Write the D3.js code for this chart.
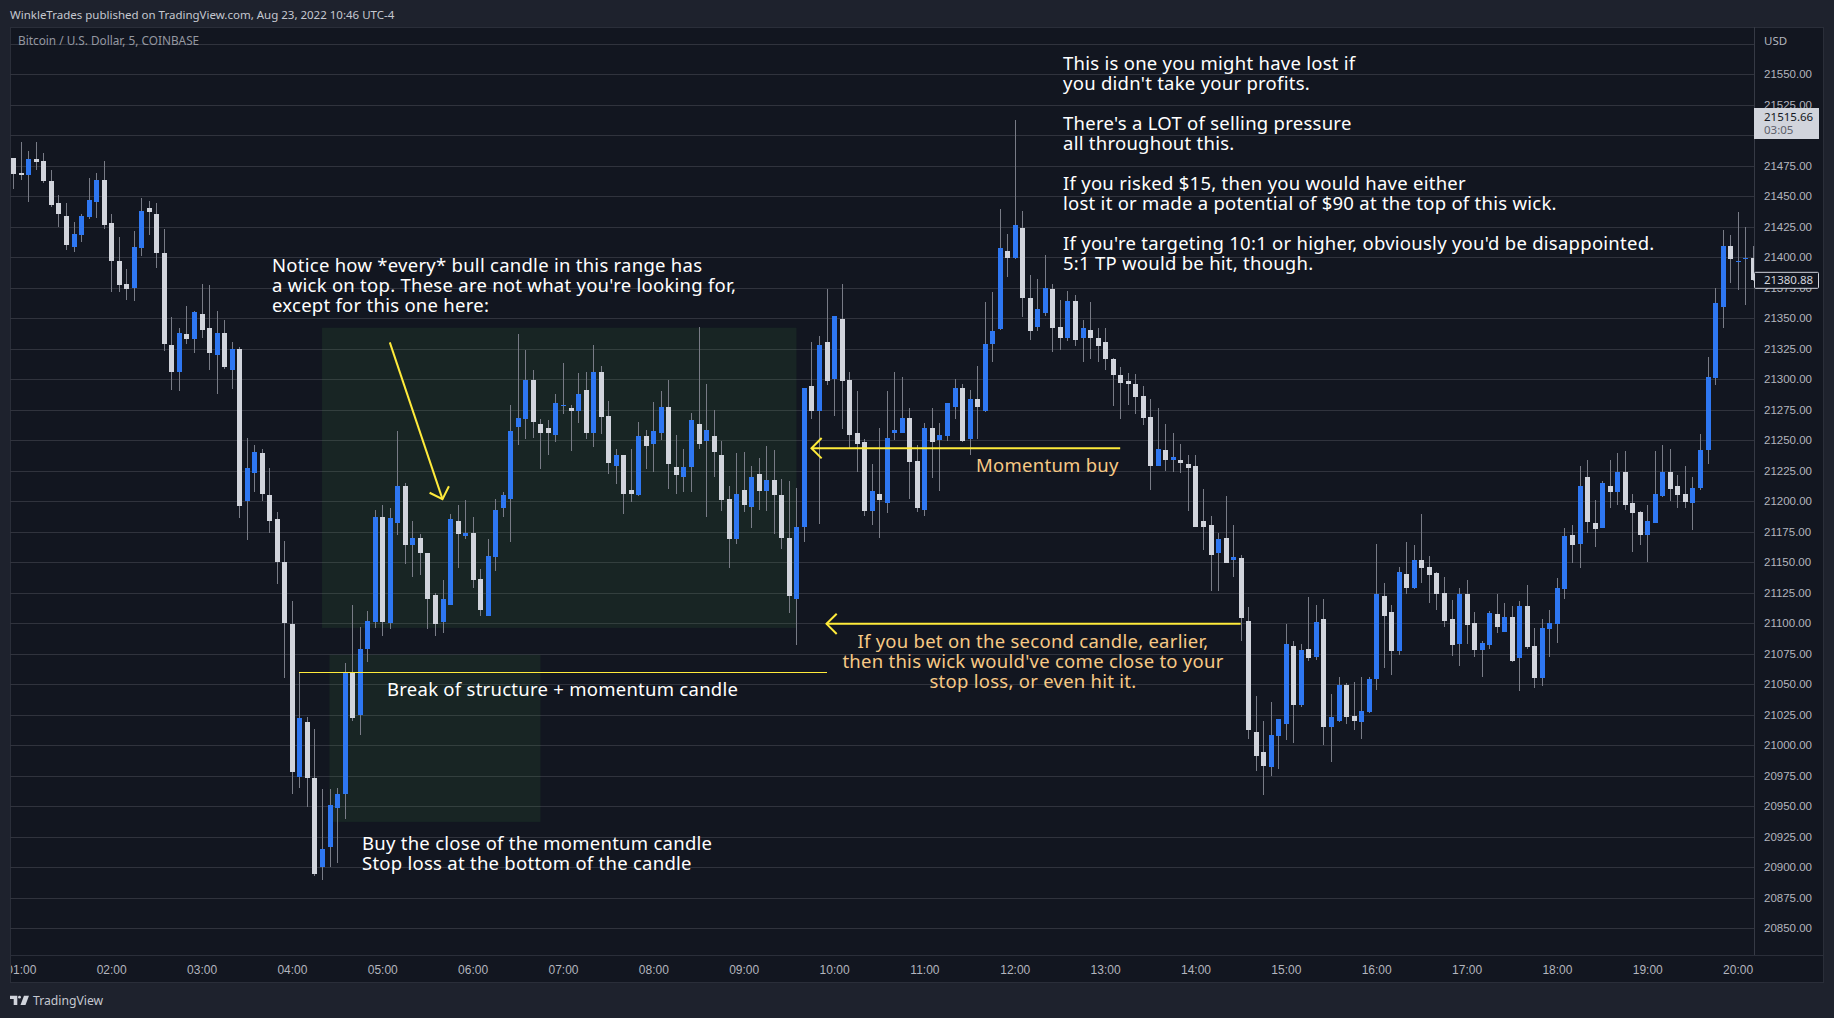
<!DOCTYPE html>
<html>
<head>
<meta charset="utf-8">
<script src="https://cdn.jsdelivr.net/npm/d3@7"></script>
<style>
  body { margin: 0; background: #1e222d; }
  svg { display: block; font-family: "Noto Sans", sans-serif; }
  .tick text { fill: #b2b5be; font-size: 11.5px; }
  .note { fill: #ffffff; font-size: 18.5px; letter-spacing: 0.26px; }
  .note-orange { fill: #f7c985; font-size: 18.5px; letter-spacing: 0.26px; }
</style>
</head>
<body>
<div id="chart"></div>
<script>
// one value per 5 minute bar, BTC/USD
var opens = [21481,21469,21467,21480,21479,21462,21444,21434,21408,21418,21433,21445,21463,21428,21397,21378,21375,21407,21440,21435,
  21403,21328,21306,21337,21333,21353,21342,21320,21338,21307,21325,21200,21223,21239,21205,21185,21150,21099,20974,21019,
  20973,20900,20916,20948,20960,21059,21025,21079,21101,21187,21100,21182,21212,21164,21170,21157,21123,21101,21115,21184,
  21171,21174,21136,21106,21154,21194,21202,21261,21267,21299,21263,21260,21254,21278,21276,21274,21291,21256,21306,21270,
  21229,21238,21209,21205,21253,21247,21256,21277,21228,21220,21228,21263,21249,21253,21238,21202,21169,21209,21195,21222,
  21208,21217,21205,21170,21120,21179,21294,21274,21330,21300,21349,21299,21256,21248,21192,21206,21198,21256,21256,21268,
  21233,21193,21260,21250,21253,21277,21293,21251,21284,21274,21329,21341,21405,21399,21424,21366,21343,21354,21374,21343,
  21334,21364,21334,21340,21334,21330,21316,21303,21298,21296,21286,21269,21229,21242,21234,21234,21230,21229,21184,21180,
  21157,21170,21152,21153,21102,21011,20994,20982,21007,21017,21081,21033,21079,21072,21103,21015,21020,21049,21024,21019,
  21027,21054,21122,21109,21077,21140,21129,21152,21146,21141,21125,21103,21083,21124,21100,21078,21082,21107,21093,21105,
  21071,21114,21081,21055,21095,21099,21128,21172,21165,21220,21182,21178,21212,21207,21224,21198,21191,21172,21182,21204,
  21224,21212,21206,21198,21211,21242,21301,21359,21409,21396,21398,21399];
var highs = [21481,21494,21487,21494,21485,21471,21451,21444,21429,21435,21465,21469,21479,21435,21416,21390,21421,21448,21446,21444,
  21423,21351,21342,21360,21356,21378,21377,21356,21348,21330,21326,21252,21246,21243,21227,21191,21167,21118,21059,21023,
  21013,20964,20964,20965,21067,21115,21097,21110,21193,21197,21194,21257,21215,21184,21173,21157,21125,21135,21189,21197,
  21201,21187,21144,21169,21202,21207,21279,21337,21324,21307,21267,21266,21288,21313,21279,21305,21306,21328,21311,21282,
  21243,21238,21243,21265,21258,21281,21290,21299,21254,21243,21272,21343,21296,21275,21249,21212,21239,21240,21229,21235,
  21245,21242,21218,21216,21211,21293,21330,21335,21374,21352,21378,21306,21290,21251,21230,21260,21290,21306,21302,21276,
  21246,21264,21276,21264,21280,21300,21296,21291,21311,21363,21371,21439,21419,21512,21438,21385,21382,21402,21378,21365,
  21372,21369,21348,21363,21342,21342,21317,21310,21305,21304,21294,21284,21276,21263,21256,21247,21238,21238,21210,21188,
  21174,21204,21180,21156,21113,21040,21020,21035,21021,21099,21085,21083,21121,21115,21120,21042,21056,21051,21052,21056,
  21056,21165,21133,21115,21146,21166,21164,21189,21155,21142,21138,21119,21129,21135,21109,21085,21110,21124,21116,21114,
  21118,21131,21096,21103,21111,21137,21178,21180,21229,21234,21201,21216,21234,21239,21241,21206,21192,21197,21241,21246,
  21243,21221,21229,21220,21255,21318,21375,21422,21418,21437,21425,21409];
var lows = [21456,21463,21445,21471,21461,21441,21425,21406,21404,21412,21431,21432,21423,21371,21371,21365,21364,21401,21418,21391,
  21323,21291,21290,21329,21321,21334,21307,21288,21308,21292,21186,21168,21207,21200,21174,21132,21055,20960,20965,20949,
  20893,20889,20900,20903,20939,21020,21008,21068,21096,21089,21095,21172,21148,21138,21139,21095,21089,21092,21115,21145,
  21169,21129,21106,21106,21143,21187,21166,21246,21251,21252,21226,21238,21248,21271,21241,21264,21251,21244,21255,21222,
  21214,21189,21199,21204,21226,21224,21250,21210,21206,21207,21207,21243,21187,21220,21192,21145,21165,21191,21178,21193,
  21192,21173,21161,21108,21082,21166,21267,21181,21295,21270,21259,21243,21224,21188,21180,21170,21190,21250,21256,21202,
  21191,21188,21219,21208,21249,21267,21248,21238,21251,21273,21314,21340,21384,21398,21351,21332,21339,21352,21322,21324,
  21331,21327,21314,21316,21314,21307,21278,21267,21279,21271,21262,21209,21229,21225,21224,21223,21192,21179,21160,21126,
  21126,21149,21138,21085,21005,20979,20959,20975,20980,21004,21002,21031,21069,21070,21000,20986,21019,21017,21012,21005,
  21026,21045,21063,21057,21074,21124,21128,21133,21116,21111,21097,21073,21065,21083,21072,21056,21079,21092,21093,21068,
  21044,21079,21047,21048,21072,21084,21120,21149,21145,21174,21162,21178,21194,21197,21193,21158,21164,21150,21182,21203,
  21200,21194,21194,21176,21209,21230,21295,21342,21379,21373,21361,21380];
var closes = [21468,21467,21480,21478,21462,21443,21435,21410,21419,21434,21447,21463,21426,21397,21377,21374,21408,21438,21437,21403,
  21329,21306,21338,21333,21355,21340,21321,21338,21310,21325,21196,21227,21240,21206,21184,21150,21100,20978,21022,20973,
  20894,20915,20951,20960,21060,21022,21079,21102,21187,21101,21186,21212,21164,21170,21157,21120,21099,21120,21185,21173,
  21174,21135,21111,21155,21193,21205,21257,21268,21299,21265,21256,21256,21280,21279,21274,21288,21256,21306,21269,21231,
  21238,21206,21206,21253,21245,21257,21277,21230,21221,21228,21266,21247,21258,21240,21201,21169,21206,21197,21220,21208,
  21217,21205,21170,21122,21179,21293,21274,21328,21298,21352,21298,21254,21247,21192,21208,21201,21252,21258,21268,21232,
  21194,21260,21248,21254,21280,21293,21249,21284,21277,21329,21339,21407,21399,21426,21366,21339,21357,21375,21342,21334,
  21364,21332,21342,21334,21327,21316,21303,21297,21296,21285,21268,21229,21243,21234,21236,21231,21227,21179,21179,21156,
  21169,21149,21154,21104,21012,20991,20983,21008,21021,21083,21033,21078,21071,21101,21015,21023,21049,21023,21020,21028,
  21054,21124,21106,21077,21142,21129,21152,21145,21139,21124,21102,21082,21124,21098,21078,21084,21108,21097,21105,21069,
  21114,21080,21055,21096,21100,21129,21171,21164,21212,21183,21177,21215,21207,21224,21197,21190,21172,21184,21206,21224,
  21210,21205,21199,21211,21242,21302,21362,21409,21398,21397,21399,21380.88];

var priceTicks = [21550,21525,21500,21475,21450,21425,21400,21375,21350,21325,21300,21275,21250,21225,21200,21175,21150,21125,21100,
  21075,21050,21025,21000,20975,20950,20925,20900,20875,20850];
var gridPrices = [21575].concat(priceTicks);
var hourBars = [1,13,25,37,49,61,73,85,97,109,121,133,145,157,169,181,193,205,217,229];
var hourLabels = ["01:00","02:00","03:00","04:00","05:00","06:00","07:00","08:00","09:00","10:00",
  "11:00","12:00","13:00","14:00","15:00","16:00","17:00","18:00","19:00","20:00"];

// drawings on the chart, anchored in bar number and price
var zoneBars = [[41, 104], [42, 70]];
var zonePrices = [[21342, 21096], [21074, 20937]];
var arrowBars = [[50, 57], [147, 106], [163, 108]];
var arrowPrices = [[21330, 21201.5], [21243.3, 21243.3], [21099.3, 21099.3]];
var levelBars = [38, 108];
var levelPrice = 21059.4;

var noteTop = ["This is one you might have lost if", "you didn't take your profits.", "",
  "There's a LOT of selling pressure", "all throughout this.", "",
  "If you risked $15, then you would have either", "lost it or made a potential of $90 at the top of this wick.", "",
  "If you're targeting 10:1 or higher, obviously you'd be disappointed.", "5:1 TP would be hit, though."];
var noteRange = ["Notice how *every* bull candle in this range has", "a wick on top. These are not what you're looking for,", "except for this one here:"];
var noteBuy = ["Buy the close of the momentum candle", "Stop loss at the bottom of the candle"];
var noteStop = ["If you bet on the second candle, earlier,", "then this wick would've come close to your", "stop loss, or even hit it."];

var width = 1834, height = 1018,
    plotLeft = 10, plotRight = 1754, plotTop = 27, plotBottom = 955,
    panelRight = 1823, panelBottom = 982;

var x = d3.scaleLinear().domain([0, 231]).range([13.3, 1752.7]);
var y = d3.scaleLinear().domain([21575, 20850]).range([43.5, 928]);

var svg = d3.select("#chart").append("svg")
    .attr("width", width)
    .attr("height", height);

svg.append("rect")
    .attr("x", plotLeft).attr("y", plotTop)
    .attr("width", panelRight - plotLeft).attr("height", panelBottom - plotTop)
    .attr("fill", "#121620")
    .attr("stroke", "#2a2e39")
    .attr("shape-rendering", "crispEdges");

svg.append("clipPath").attr("id", "plot-clip").append("rect")
    .attr("x", plotLeft + 1).attr("y", plotTop)
    .attr("width", plotRight - plotLeft - 1).attr("height", panelBottom - plotTop);

// grid
var grid = svg.append("g")
    .attr("transform", "translate(" + plotLeft + ",0)")
    .call(d3.axisRight(y).tickValues(gridPrices).tickSize(plotRight - plotLeft).tickFormat(""));
grid.select(".domain").remove();
grid.selectAll("line").attr("stroke", "#30333d").attr("shape-rendering", "crispEdges");

// green zones
svg.selectAll(".zone")
    .data(zoneBars)
  .enter().append("rect")
    .attr("class", "zone")
    .attr("x", function(d) { return x(d[0]); })
    .attr("width", function(d) { return x(d[1]) - x(d[0]); })
    .attr("y", function(d, i) { return y(zonePrices[i][0]); })
    .attr("height", function(d, i) { return y(zonePrices[i][1]) - y(zonePrices[i][0]); })
    .attr("fill", "#4caf50")
    .attr("fill-opacity", 0.1);

// candles
var plot = svg.append("g").attr("clip-path", "url(#plot-clip)");

plot.selectAll(".wick")
    .data(opens)
  .enter().append("rect")
    .attr("class", "wick")
    .attr("x", function(d, i) { return Math.round(x(i)); })
    .attr("width", 1)
    .attr("y", function(d, i) { return y(highs[i]); })
    .attr("height", function(d, i) { return y(lows[i]) - y(highs[i]); })
    .attr("fill", "#787b86")
    .attr("shape-rendering", "crispEdges");

plot.selectAll(".body")
    .data(opens)
  .enter().append("rect")
    .attr("class", "body")
    .attr("x", function(d, i) { return Math.round(x(i)) - 2; })
    .attr("width", 5)
    .attr("y", function(d, i) { return y(Math.max(d, closes[i])); })
    .attr("height", function(d, i) { return Math.max(1, Math.abs(y(d) - y(closes[i]))); })
    .attr("fill", function(d, i) { return closes[i] > d ? "#2e77f2" : "#d1d4dc"; })
    .attr("shape-rendering", "crispEdges");

// price axis
var priceAxis = svg.append("g")
    .attr("transform", "translate(" + plotRight + ",0)")
    .call(d3.axisRight(y).tickValues(priceTicks).tickSize(0).tickPadding(10).tickFormat(d3.format(".2f")));
priceAxis.select(".domain").remove();

svg.append("line")
    .attr("x1", plotRight).attr("x2", plotRight)
    .attr("y1", plotTop).attr("y2", plotBottom)
    .attr("stroke", "#363a45").attr("shape-rendering", "crispEdges");

svg.append("line")
    .attr("x1", plotLeft).attr("x2", panelRight)
    .attr("y1", plotBottom).attr("y2", plotBottom)
    .attr("stroke", "#2a2e39").attr("shape-rendering", "crispEdges");

svg.append("text")
    .attr("x", 1764).attr("y", 45)
    .attr("fill", "#b2b5be").attr("font-size", 11.5)
    .text("USD");

// time axis
svg.append("clipPath").attr("id", "time-clip").append("rect")
    .attr("x", plotLeft + 1).attr("y", plotBottom)
    .attr("width", plotRight - plotLeft).attr("height", panelBottom - plotBottom);

var timeAxis = svg.append("g")
    .attr("clip-path", "url(#time-clip)")
  .append("g")
    .attr("transform", "translate(0," + plotBottom + ")")
    .call(d3.axisBottom(x).tickValues(hourBars).tickSize(0).tickPadding(10)
      .tickFormat(function(d, i) { return hourLabels[i]; }));
timeAxis.select(".domain").remove();
timeAxis.selectAll("text").style("font-size", "12px");

// price tags
svg.append("rect")
    .attr("x", plotRight).attr("y", 108).attr("width", 65).attr("height", 31)
    .attr("fill", "#d1d4dc");
svg.append("text")
    .attr("x", 1764).attr("y", 120.5)
    .attr("fill", "#131722").attr("font-size", 11.5)
    .text("21515.66");
svg.append("text")
    .attr("x", 1764).attr("y", 134)
    .attr("fill", "#5d606b").attr("font-size", 11.5)
    .text("03:05");

svg.append("rect")
    .attr("x", plotRight + 0.5).attr("y", y(closes[231]) - 8).attr("width", 64).attr("height", 16)
    .attr("rx", 1)
    .attr("fill", "#121620")
    .attr("stroke", "#d1d4dc");
svg.append("text")
    .attr("x", 1764).attr("y", y(closes[231]) + 4)
    .attr("fill", "#d1d4dc").attr("font-size", 11.5)
    .text(d3.format(".2f")(closes[231]));

// yellow level line
svg.append("line")
    .attr("x1", x(levelBars[0])).attr("x2", x(levelBars[1]))
    .attr("y1", y(levelPrice)).attr("y2", y(levelPrice))
    .attr("stroke", "#ffeb3b")
    .attr("shape-rendering", "crispEdges");

// yellow arrows
arrowBars.forEach(function(bars, i) {
  var x1 = x(bars[0]), y1 = y(arrowPrices[i][0]),
      x2 = x(bars[1]), y2 = y(arrowPrices[i][1]),
      angle = Math.atan2(y2 - y1, x2 - x1),
      head = 14.4, spread = Math.PI / 4;

  var line = svg.append("g")
      .attr("fill", "none")
      .attr("stroke", "#ffeb3b")
      .attr("stroke-width", 2);
  line.append("line")
      .attr("x1", x1).attr("y1", y1)
      .attr("x2", x2).attr("y2", y2);
  line.append("path")
      .attr("d", d3.line()([
        [x2 - head * Math.cos(angle - spread), y2 - head * Math.sin(angle - spread)],
        [x2, y2],
        [x2 - head * Math.cos(angle + spread), y2 - head * Math.sin(angle + spread)]
      ]));
});

// notes
function addLines(lines, left, top, cls, anchor) {
  svg.selectAll(null)
      .data(lines)
    .enter().append("text")
      .attr("class", cls)
      .attr("x", left)
      .attr("y", function(d, i) { return top + i * 19.97; })
      .attr("dy", "0.35em")
      .attr("text-anchor", anchor || "start")
      .text(function(d) { return d; });
}

addLines(noteTop, 1063, 63.5, "note");
addLines(noteRange, 272, 265.5, "note");
addLines(["Break of structure + momentum candle"], 387, 689.5, "note");
addLines(noteBuy, 362, 843.5, "note");
addLines(["Momentum buy"], 976, 465.5, "note-orange");
addLines(noteStop, 1033, 641.5, "note-orange", "middle");

// header and footer
svg.append("text")
    .attr("x", 10).attr("y", 19)
    .attr("fill", "#c5c8d0").attr("font-size", 11.5)
    .text("WinkleTrades published on TradingView.com, Aug 23, 2022 10:46 UTC-4");
svg.append("text")
    .attr("x", 18).attr("y", 45)
    .attr("fill", "#9598a1").attr("font-size", 11.8)
    .text("Bitcoin / U.S. Dollar, 5, COINBASE");

var logo = svg.append("g").attr("fill", "#d1d4dc");
logo.append("path").attr("d", "M10 995.7H17.3V1005H13.7V999H10Z");
logo.append("circle").attr("cx", 19.5).attr("cy", 997.2).attr("r", 1.4);
logo.append("path").attr("d", "M24 995.7H29L25.5 1005H20.5Z");
svg.append("text")
    .attr("x", 33).attr("y", 1004.5)
    .attr("fill", "#c5c8d0").attr("font-size", 12.2)
    .text("TradingView");
</script>
</body>
</html>
